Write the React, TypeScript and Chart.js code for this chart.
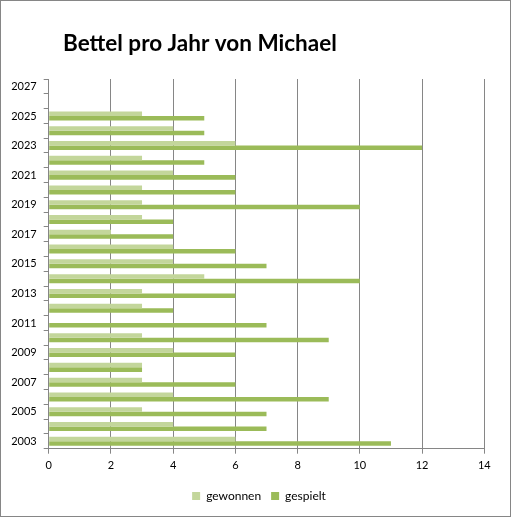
import React, { useEffect, useRef } from "react";
import { Chart, registerables } from "chart.js";

Chart.register(...registerables);

const titleText = "Bettel pro Jahr von Michael";
const years = [
  "2003", "2004", "2005", "2006", "2007", "2008", "2009", "2010", "2011",
  "2012", "2013", "2014", "2015", "2016", "2017", "2018", "2019", "2020",
  "2021", "2022", "2023", "2024", "2025", "2026", "2027",
];
const gewonnen = [6, 4, 3, 4, 3, 3, 4, 3, 0, 3, 3, 5, 4, 4, 2, 3, 3, 3, 4, 3, 6, 4, 3, null, null];
const gespielt = [11, 7, 7, 9, 6, 3, 6, 9, 7, 4, 6, 10, 7, 6, 4, 4, 10, 6, 6, 5, 12, 5, 5, null, null];
const xMin = 0;
const xMax = 14;
const xStep = 2;

const GRID = "#868686";

export default function App() {
  const ref = useRef<HTMLCanvasElement | null>(null);

  useEffect(() => {
    if (!ref.current) return;
    Chart.defaults.font.family = "Lato, 'Open Sans', sans-serif";

    const titlePlugin = {
      id: "customTitle",
      afterDraw(chart: any) {
        const ctx = chart.ctx as CanvasRenderingContext2D;
        ctx.save();
        ctx.font = "bold 22.5px Lato, 'Open Sans', sans-serif";
        ctx.fillStyle = "#000";
        ctx.textAlign = "left";
        ctx.textBaseline = "middle";
        ctx.fillText(titleText, 62, 43);
        ctx.restore();
      },
    };

    const chart = new Chart(ref.current, {
      type: "bar",
      data: {
        labels: years,
        datasets: [
          {
            label: "gewonnen",
            data: gewonnen as any,
            backgroundColor: "#c3d69b",
            borderWidth: 0,
            barPercentage: 1,
            categoryPercentage: 0.61,
          },
          {
            label: "gespielt",
            data: gespielt as any,
            backgroundColor: "#9bbb59",
            borderWidth: 0,
            barPercentage: 1,
            categoryPercentage: 0.61,
          },
        ],
      },
      options: {
        indexAxis: "y",
        responsive: false,
        animation: false,
        layout: { padding: { top: 78, left: 7, right: 0, bottom: 4 } },
        plugins: {
          title: { display: false },
          tooltip: { enabled: false },
          legend: {
            position: "bottom",
            labels: {
              boxWidth: 8,
              boxHeight: 8,
              padding: 10,
              color: "#000",
              font: { size: 12 },
            },
          },
        },
        scales: {
          x: {
            type: "linear",
            position: "bottom",
            min: xMin,
            max: xMax,
            ticks: { stepSize: xStep, color: "#000", font: { size: 11 }, padding: 5 },
            grid: { color: GRID, tickLength: 5, lineWidth: 1 },
            border: { color: GRID },
            afterFit(scale: any) {
              scale.height = 31.3;
            },
          },
          y: {
            type: "category",
            position: "left",
            reverse: true,
            ticks: {
              autoSkip: false,
              color: "#000",
              font: { size: 11 },
              padding: 7,
              callback: (_v: any, i: number) => (i % 2 === 0 ? years[i] : ""),
            },
            grid: { offset: true, drawOnChartArea: false, color: GRID, tickLength: 5 },
            border: { color: GRID },
            afterFit(scale: any) {
              scale.width = 40.7;
            },
          },
          y2: {
            type: "linear",
            position: "right",
            display: true,
            ticks: { display: false },
            grid: { display: false },
            border: { display: false },
            afterFit(scale: any) {
              scale.width = 25.7;
            },
          },
        },
      } as any,
      plugins: [titlePlugin],
    });

    return () => chart.destroy();
  }, []);

  return (
    <div
      style={{
        position: "absolute",
        left: 0,
        top: 0,
        width: 511,
        height: 517,
        border: "1px solid #868686",
        boxSizing: "border-box",
        background: "#fff",
      }}
    >
      <canvas ref={ref} width={509} height={515} style={{ display: "block", width: 509, height: 515 }} />
    </div>
  );
}
